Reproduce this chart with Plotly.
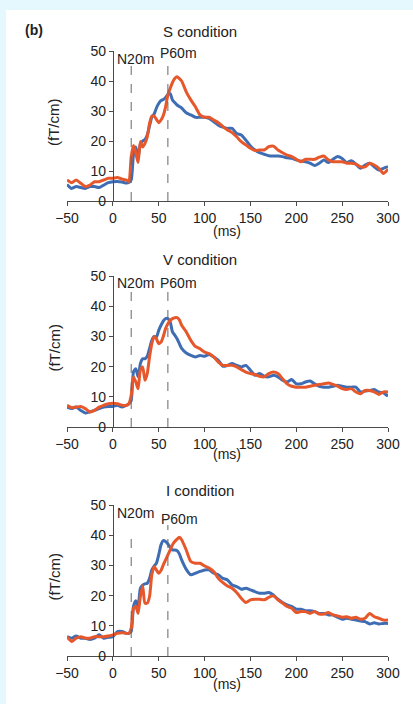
import plotly.graph_objects as go

# ---------------- data ----------------
T = [-50, -45, -40, -35, -30, -25, -20, -15, -10, -5, 0, 5, 10, 15,
     17.5, 20, 22.5, 25, 27.5, 30, 32.5, 35, 37.5, 40, 42.5, 45, 47.5, 50,
     52.5, 55, 57.5, 60, 62.5, 65, 67.5, 70, 72.5, 75,
     80, 85, 90, 95, 100, 105, 110, 115, 120, 125, 130, 135, 140, 145, 150,
     155, 160, 165, 170, 175, 180, 185, 190, 195, 200, 205, 210, 215, 220,
     225, 230, 235, 240, 245, 250, 255, 260, 265, 270, 275, 280, 285, 290,
     295, 300]

s_blue = [5.5, 4.2, 4.8, 4.5, 4.2, 4.8, 4.8, 4.5, 5.3, 6.1, 6.4, 6.5, 6.3, 6.0,
          6.2, 7.0, 15.5, 18.0, 14.5, 19.0, 20.0, 20.5, 22.0, 25.0, 28.0, 29.0, 31.0, 32.5,
          33.5, 33.8, 34.5, 35.5, 35.8, 33.7, 32.8, 32.0, 31.5, 31.0,
          29.4, 28.7, 27.9, 27.9, 27.9, 27.5, 26.4, 25.3, 24.6, 24.2, 24.2, 22.5, 22.0, 20.3, 18.3,
          17.0, 16.1, 15.6, 15.1, 15.0, 15.0, 14.8, 14.4, 14.2, 13.7, 13.3, 13.1, 12.6, 11.8,
          12.6, 13.7, 12.8, 13.9, 14.8, 14.2, 12.8, 13.4, 12.3, 10.9, 12.0, 12.6, 11.4, 10.3,
          10.9, 11.4]
s_orange = [7.0, 6.1, 7.0, 5.9, 4.8, 5.3, 6.4, 6.4, 7.0, 7.6, 7.6, 7.8, 7.3, 7.0,
            6.4, 14.8, 18.5, 16.0, 12.8, 19.8, 18.0, 19.2, 21.4, 25.9, 28.3, 28.3, 27.2, 26.1,
            27.0, 28.5, 31.4, 35.3, 37.5, 39.5, 40.8, 41.4, 40.8, 40.0,
            36.4, 33.7, 31.4, 28.7, 27.9, 27.9, 27.0, 26.1, 24.8, 23.7, 22.8, 21.4, 19.8, 18.7, 17.6,
            16.8, 17.0, 17.0, 18.1, 18.3, 17.0, 16.1, 15.3, 14.8, 13.9, 13.1, 13.9, 13.9, 13.9,
            14.6, 15.0, 13.7, 13.1, 13.1, 13.1, 12.6, 12.6, 12.3, 11.4, 11.4, 12.6, 12.0, 10.9,
            9.2, 10.6]

v_blue = [6.6, 6.1, 6.6, 5.5, 4.6, 5.0, 5.5, 6.1, 6.6, 6.8, 6.8, 7.2, 6.6, 7.2,
          7.7, 8.8, 18.2, 19.3, 16.6, 21.0, 22.6, 22.6, 23.4, 26.0, 28.7, 30.0, 29.8, 32.0,
          33.7, 35.1, 35.9, 35.9, 34.8, 31.5, 30.4, 29.2, 27.6, 26.0,
          24.5, 23.7, 23.2, 23.7, 23.4, 24.0, 23.2, 22.1, 20.1, 20.4, 21.0, 20.4, 19.9, 20.4, 18.8,
          17.1, 17.7, 16.8, 16.6, 17.1, 16.6, 15.5, 14.9, 15.7, 14.3, 14.3, 14.9, 15.2, 14.3,
          13.5, 13.2, 13.2, 13.5, 13.8, 13.5, 13.2, 13.2, 13.2, 11.6, 11.9, 12.1, 12.4, 11.6,
          11.3, 10.2]
v_orange = [7.2, 6.4, 6.6, 6.8, 6.1, 5.0, 5.5, 6.6, 7.2, 7.7, 7.9, 7.7, 7.2, 7.2,
            7.7, 10.5, 16.6, 14.9, 12.7, 18.8, 19.9, 15.5, 17.7, 23.2, 27.6, 30.0, 29.2, 27.6,
            28.1, 30.0, 32.6, 34.2, 35.3, 35.9, 36.2, 36.2, 35.5, 33.7,
            31.5, 28.7, 26.7, 25.9, 24.8, 24.3, 23.2, 21.5, 20.4, 20.4, 20.4, 19.9, 19.0, 18.2, 17.7,
            17.4, 16.8, 16.6, 17.7, 18.2, 17.7, 16.0, 14.3, 13.5, 13.2, 13.2, 13.2, 13.5, 13.8,
            14.1, 14.3, 14.6, 14.1, 13.5, 12.7, 12.4, 12.7, 11.6, 11.0, 12.1, 12.1, 11.6, 10.8,
            11.6, 11.6]

i_blue = [6.4, 5.9, 6.6, 5.9, 5.9, 5.5, 5.9, 7.0, 5.9, 6.2, 6.4, 8.1, 8.1, 7.5,
          7.5, 8.1, 16.4, 18.3, 16.4, 22.4, 23.5, 23.9, 24.1, 25.7, 28.5, 29.8, 30.7, 33.5,
          36.8, 38.2, 37.9, 37.1, 36.0, 35.1, 35.1, 34.9, 33.8, 31.8,
          28.7, 26.9, 27.4, 28.0, 28.5, 28.5, 27.4, 26.9, 25.7, 25.2, 23.5, 23.0, 22.1, 22.4, 21.9,
          21.3, 20.8, 20.8, 21.0, 20.2, 18.8, 17.7, 16.9, 16.4, 15.5, 15.5, 15.0, 15.0, 14.7,
          14.1, 14.1, 13.6, 13.6, 12.8, 12.2, 12.5, 12.2, 11.9, 11.6, 11.4, 10.6, 11.0, 10.6,
          10.8, 10.8]
i_orange = [6.4, 4.8, 5.9, 6.4, 5.9, 5.9, 6.4, 6.4, 6.4, 6.6, 7.0, 7.5, 7.7, 7.5,
            7.5, 9.2, 15.8, 16.4, 14.1, 19.7, 23.2, 17.5, 17.5, 19.7, 26.9, 29.6, 28.5, 27.4,
            28.3, 30.2, 31.8, 33.5, 35.1, 36.8, 37.9, 38.7, 39.3, 38.5,
            35.1, 31.3, 30.7, 30.7, 29.8, 29.1, 28.0, 25.7, 24.3, 23.2, 22.4, 21.0, 19.1, 17.7, 18.6,
            18.8, 18.8, 18.6, 19.4, 19.9, 18.6, 17.5, 16.4, 15.8, 14.4, 14.7, 14.7, 14.1, 14.7,
            13.9, 13.9, 14.4, 13.6, 13.3, 12.8, 13.0, 12.5, 12.8, 12.2, 12.5, 14.1, 13.0, 12.5,
            11.9, 11.9]

conditions = ["S condition", "V condition", "I condition"]
x_ticks = [-50, 0, 50, 100, 150, 200, 250, 300]
y_ticks = [0, 10, 20, 30, 40, 50]
markers = [20, 60]
marker_labels = ["N20m", "P60m"]
# top of dashed marker lines per panel (value units)
marker_tops = [[45.7, 46.0], [45.4, 46.0], [41.5, 43.4]]
label_pos = [[(24.2, 47.3), (72.1, 49.3)],
             [(24.9, 47.6), (72.1, 47.8)],
             [(25.2, 47.3), (73.2, 45.3)]]

series = [(s_blue, s_orange), (v_blue, v_orange), (i_blue, i_orange)]

# ---------------- layout geometry ----------------
W, H = 413, 704
BLUE = "#3f6db3"
ORANGE = "#e6582b"
AX = "#4a4a4a"
TXT = "#222222"
FONT = "Arial"

x_dom = [67 / W, 388 / W]
# pixel rows of value 0 and 50 for each panel
rows = [(201, 51), (427, 276), (656, 505)]
title_y = [32, 259, 491]
ms_y = [231, 454, 684]

fig = go.Figure()
layout = dict(
    width=W, height=H,
    margin=dict(l=0, r=0, t=0, b=0, autoexpand=False),
    paper_bgcolor="white", plot_bgcolor="rgba(0,0,0,0)",
    showlegend=False, template="none",
    font=dict(family=FONT, size=14, color=TXT),
    annotations=[], shapes=[],
)

yaxis_pos = x_dom[0] + (0 - (-50)) / 350 * (x_dom[1] - x_dom[0])

for k in range(3):
    sfx = "" if k == 0 else str(k + 1)
    xa, ya = "x" + sfx, "y" + sfx
    b, o = series[k]
    fig.add_trace(go.Scatter(x=T, y=b, mode="lines", xaxis=xa, yaxis=ya,
                             line=dict(color=BLUE, width=3, shape="spline", smoothing=0.6)))
    fig.add_trace(go.Scatter(x=T, y=o, mode="lines", xaxis=xa, yaxis=ya,
                             line=dict(color=ORANGE, width=3, shape="spline", smoothing=0.6)))
    y0px, y50px = rows[k]
    layout["xaxis" + sfx] = dict(
        domain=x_dom, range=[-50, 300], anchor=ya, automargin=False,
        tickvals=x_ticks, ticks="outside", ticklen=4, tickcolor=AX,
        showline=True, linecolor=AX, linewidth=1, showgrid=False, zeroline=False,
        tickfont=dict(size=14, color=TXT, family=FONT), fixedrange=True,
    )
    layout["yaxis" + sfx] = dict(
        domain=[(H - y0px) / H, (H - y50px) / H], range=[0, 50],
        anchor="free", position=yaxis_pos, automargin=False,
        tickvals=y_ticks, ticks="outside", ticklen=4, tickcolor=AX,
        showline=True, linecolor=AX, linewidth=1, showgrid=False, zeroline=False,
        tickfont=dict(size=14, color=TXT, family=FONT), fixedrange=True,
    )
    # dashed marker lines
    for m, top in zip(markers, marker_tops[k]):
        layout["shapes"].append(dict(type="line", xref=xa, yref=ya, x0=m, x1=m, y0=0, y1=top,
                                     line=dict(color="#666666", width=1, dash="dash")))
    for lab, (lx, ly) in zip(marker_labels, label_pos[k]):
        layout["annotations"].append(dict(text=lab, xref=xa, yref=ya, x=lx, y=ly,
                                          showarrow=False, xanchor="center", yanchor="middle",
                                          font=dict(size=14, color=TXT, family=FONT)))
    # panel title
    layout["annotations"].append(dict(text=conditions[k], xref="paper", yref="paper",
                                      x=200 / W, y=1 - title_y[k] / H, showarrow=False,
                                      xanchor="center", yanchor="middle",
                                      font=dict(size=15, color=TXT, family=FONT)))
    # axis titles
    layout["annotations"].append(dict(text="(ms)", xref="paper", yref="paper",
                                      x=227 / W, y=1 - ms_y[k] / H, showarrow=False,
                                      xanchor="center", yanchor="middle",
                                      font=dict(size=14, color=TXT, family=FONT)))
    layout["annotations"].append(dict(text="(fT/cm)", xref="paper", yref="paper",
                                      x=54 / W, y=1 - ((y0px + y50px) / 2 - 3) / H,
                                      showarrow=False, textangle=-90,
                                      xanchor="center", yanchor="middle",
                                      font=dict(size=15, color=TXT, family=FONT)))

layout["annotations"].append(dict(text="<b>(b)</b>", xref="paper", yref="paper",
                                  x=34 / W, y=1 - 30 / H, showarrow=False,
                                  xanchor="center", yanchor="middle",
                                  font=dict(size=14, color=TXT, family=FONT)))

# light frame strips (top and left)
layout["shapes"].append(dict(type="rect", xref="paper", yref="paper", x0=0, x1=1,
                             y0=1 - 10 / H, y1=1, fillcolor="#e4f8fd", line=dict(width=0),
                             layer="below"))
layout["shapes"].append(dict(type="rect", xref="paper", yref="paper", x0=0, x1=6 / W,
                             y0=0, y1=1, fillcolor="#e4f8fd", line=dict(width=0),
                             layer="below"))

fig.update_layout(**layout)
fig.write_html("out.html", config={"displayModeBar": False},
               post_script="document.body.style.margin='0px';document.body.style.overflow='hidden';")
